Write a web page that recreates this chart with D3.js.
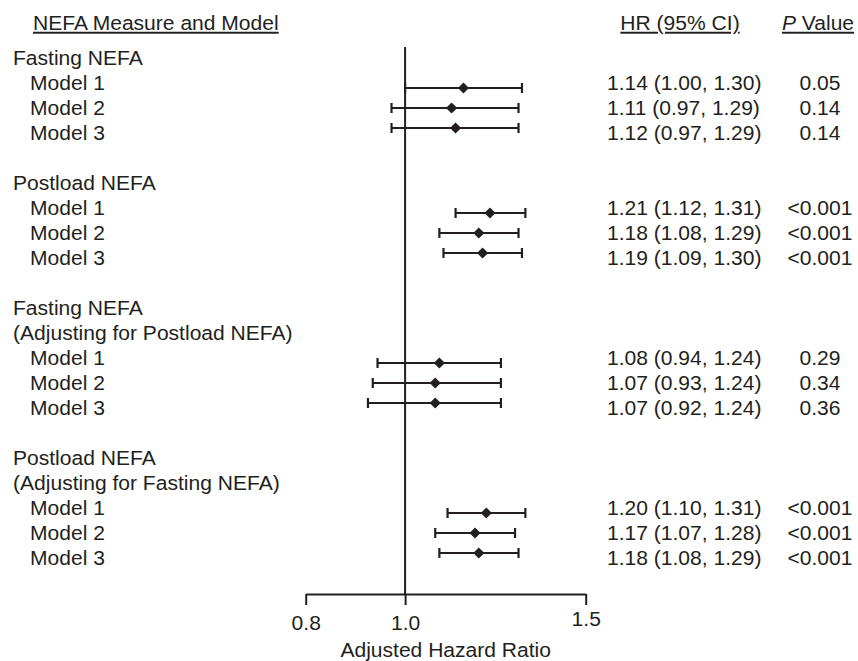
<!DOCTYPE html>
<html>
<head>
<meta charset="utf-8">
<script src="https://cdn.jsdelivr.net/npm/d3@7/dist/d3.min.js"></script>
<style>
  body { margin: 0; background: #fff; }
  text { font-family: "Liberation Sans", Arial, sans-serif; fill: #231f20; }
</style>
</head>
<body>
<svg id="graph"></svg>
<script>
// values
var groupTitles = [
  ["Fasting NEFA"],
  ["Postload NEFA"],
  ["Fasting NEFA", "(Adjusting for Postload NEFA)"],
  ["Postload NEFA", "(Adjusting for Fasting NEFA)"]
];
var models = ["Model 1", "Model 2", "Model 3"];
var hr = [1.14, 1.11, 1.12, 1.21, 1.18, 1.19, 1.08, 1.07, 1.07, 1.20, 1.17, 1.18];
var lower = [1.00, 0.97, 0.97, 1.12, 1.08, 1.09, 0.94, 0.93, 0.92, 1.10, 1.07, 1.08];
var upper = [1.30, 1.29, 1.29, 1.31, 1.29, 1.30, 1.24, 1.24, 1.24, 1.31, 1.28, 1.29];
var pValues = ["0.05", "0.14", "0.14", "<0.001", "<0.001", "<0.001",
               "0.29", "0.34", "0.36", "<0.001", "<0.001", "<0.001"];
var tickValues = [0.8, 1.0, 1.5];

var ink = "#231f20",
    fs = 19.5,
    stretch = 1.08;

var svg = d3.select("#graph")
    .attr("width", 858)
    .attr("height", 661);

// x: log scale for hazard ratios
var x = d3.scaleLog().domain([0.8, 1.5]).range([305.7, 585.7]);
// text lines: one unit per printed line
var line = d3.scaleLinear().domain([0, 20]).range([58, 558]);
var axisY = 594;

// build row list: each row knows its text line and group
var rows = [], heads = [], li = 0, r = 0;
groupTitles.forEach(function(t, g) {
  t.forEach(function(s) { heads.push({text: s, line: li++}); });
  var mid = li + 1;
  models.forEach(function(m, k) {
    rows.push({
      label: m, line: li++, markY: line(mid) + (k - 1) * 20,
      hr: hr[r], lo: lower[r], hi: upper[r], p: pValues[r]
    });
    r++;
  });
  li++; // blank line between groups
});

function label(x0, y0, s, anchor) {
  return svg.append("text")
      .attr("transform", "translate(" + x0 + "," + y0 + ") scale(" + stretch + ",1)")
      .attr("dy", "0.35em")
      .attr("text-anchor", anchor || "start")
      .style("font-size", fs + "px")
      .text(s);
}

// column headers
label(33, 23, "NEFA Measure and Model").style("text-decoration", "underline");
label(680, 23, "HR (95% CI)", "middle").style("text-decoration", "underline");
var pv = label(818, 23, "", "middle").style("text-decoration", "underline");
pv.append("tspan").style("font-style", "italic").text("P");
pv.append("tspan").text(" Value");

// left labels
heads.forEach(function(h) { label(13, line(h.line), h.text); });
rows.forEach(function(d) { label(30, line(d.line), d.label); });

// right columns
rows.forEach(function(d) {
  label(607, line(d.line), d.hr.toFixed(2) + " (" + d.lo.toFixed(2) + ", " + d.hi.toFixed(2) + ")");
  label(820, line(d.line), d.p, "middle");
});

// reference line at HR = 1
svg.append("line")
    .attr("x1", x(1)).attr("x2", x(1))
    .attr("y1", 47).attr("y2", axisY)
    .attr("stroke", ink).attr("stroke-width", 2);

// error bars
var bars = svg.append("g").selectAll("g")
  .data(rows)
  .enter().append("g");

bars.append("line")
    .attr("x1", function(d) { return x(d.lo); })
    .attr("x2", function(d) { return x(d.hi); })
    .attr("y1", function(d) { return d.markY; })
    .attr("y2", function(d) { return d.markY; })
    .attr("stroke", ink).attr("stroke-width", 2.2);

[["lo"], ["hi"]].forEach(function(k) {
  bars.append("line")
      .attr("x1", function(d) { return x(d[k[0]]); })
      .attr("x2", function(d) { return x(d[k[0]]); })
      .attr("y1", function(d) { return d.markY - 5; })
      .attr("y2", function(d) { return d.markY + 5; })
      .attr("stroke", ink).attr("stroke-width", 2.2);
});

bars.append("path")
    .attr("d", d3.symbol().type(d3.symbolSquare).size(62))
    .attr("transform", function(d) {
      return "translate(" + x(d.hr) + "," + d.markY + ") rotate(45)";
    })
    .attr("fill", ink);

// axis
var xaxis = svg.append("g")
    .attr("transform", "translate(0," + axisY + ")")
    .call(d3.axisBottom(x).tickValues(tickValues).tickSize(11).tickSizeOuter(0)
      .tickFormat(d3.format(".1f")));

xaxis.select(".domain").attr("stroke", ink).attr("stroke-width", 2);
xaxis.selectAll(".tick line").attr("stroke", ink).attr("stroke-width", 2);
xaxis.selectAll(".tick text")
    .attr("y", 0).attr("dy", 0)
    .attr("transform", "translate(0,630) scale(" + stretch + ",1)")
    .attr("fill", ink)
    .style("font-size", fs + "px")
    .style("font-family", "Liberation Sans, Arial, sans-serif");
xaxis.selectAll(".tick text").attr("transform", function(d) {
  return "translate(0," + (d === 1.5 ? 32 : 36) + ") scale(" + stretch + ",1)";
});

label(x(Math.sqrt(0.8 * 1.5)) + 0, 650, "Adjusted Hazard Ratio", "middle")
    .attr("transform", "translate(" + (x.range()[0] + x.range()[1]) / 2 + ",650) scale(" + stretch + ",1)");
</script>
</body>
</html>
